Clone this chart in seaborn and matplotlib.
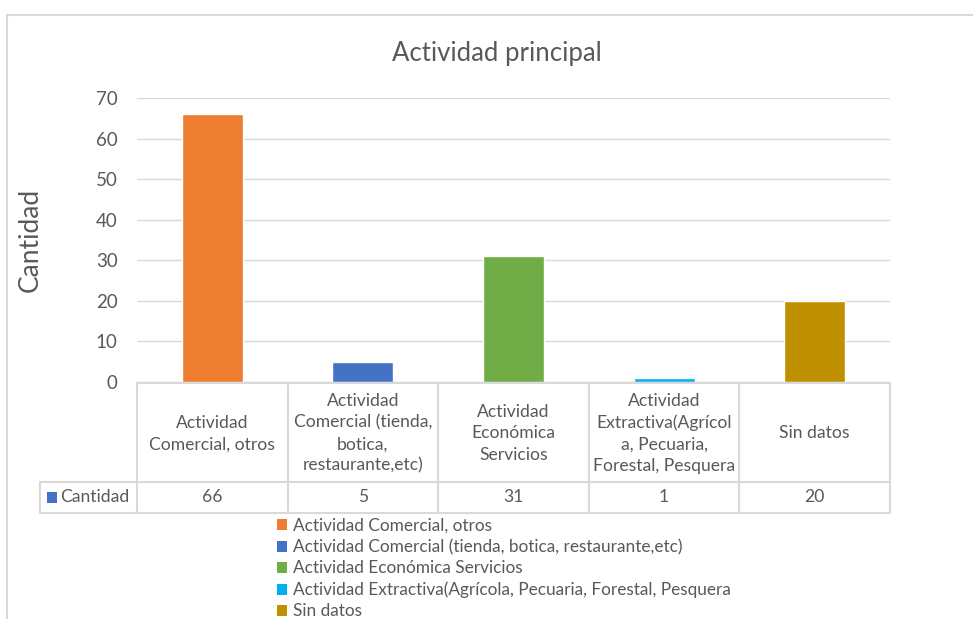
import matplotlib
matplotlib.use("Agg")
import matplotlib.pyplot as plt
import matplotlib.patches as mpatches
import seaborn as sns
import pandas as pd

categories = [
    "Actividad Comercial, otros",
    "Actividad Comercial (tienda, botica, restaurante,etc)",
    "Actividad Económica Servicios",
    "Actividad Extractiva(Agrícola, Pecuaria, Forestal, Pesquera",
    "Sin datos",
]
tick_labels = [
    "Actividad\nComercial, otros",
    "Actividad\nComercial (tienda,\nbotica,\nrestaurante,etc)",
    "Actividad\nEconómica\nServicios",
    "Actividad\nExtractiva(Agrícol\na, Pecuaria,\nForestal, Pesquera",
    "Sin datos",
]
values = [66, 5, 31, 1, 20]
colors = ["#ED7D31", "#4472C4", "#70AD47", "#00B0F0", "#BF9000"]
series_name = "Cantidad"
title = "Actividad principal"
yticks = [0, 10, 20, 30, 40, 50, 60, 70]

sns.set_theme(style="white")
plt.rcParams["font.family"] = ["Lato", "DejaVu Sans"]
TXT = "#595959"
GRID = "#D9D9D9"

W, H = 973, 619
fig = plt.figure(figsize=(W / 100, H / 100), dpi=100)

def fx(px):
    return px / W

def fy(py):
    return 1 - py / H

L, R, T, B = 137, 890, 98, 382
ax = fig.add_axes([fx(L), fy(B), fx(R) - fx(L), fy(T) - fy(B)])

df = pd.DataFrame({"cat": categories, "val": values})
sns.barplot(data=df, x="cat", y="val", hue="cat", palette=colors,
            order=categories, hue_order=categories, dodge=False,
            width=0.405, legend=False, ax=ax, saturation=1)

ax.set_xlim(-0.5, len(categories) - 0.5)
ax.set_ylim(0, 70)
ax.set_yticks(yticks)
ax.set_yticklabels([str(t) for t in yticks], color=TXT, fontsize=13.5)
ax.tick_params(axis="y", length=0, pad=14)
ax.set_xticks([])
ax.set_xlabel("")
ax.set_ylabel("Cantidad", color=TXT, fontsize=19)
ax.yaxis.set_label_coords((43 - L) / (R - L), 0.5)
ax.yaxis.grid(True, color=GRID, linewidth=1)
ax.set_axisbelow(True)
for s in ax.spines.values():
    s.set_visible(False)

fig.text(fx(497), fy(53), title, ha="center", va="center", fontsize=18.5, color=TXT)

# outer chart frame
fig.patches.append(mpatches.Rectangle((fx(7), fy(640)), fx(1000), fy(15) - fy(640),
                                      transform=fig.transFigure, fill=False,
                                      edgecolor=GRID, linewidth=1.5))

# data table
ty0, ty1, ty2 = 383, 482, 513
tx_left = 40
n = len(categories)
cw = (R - L) / n
def hline(x0, x1, y):
    fig.add_artist(plt.Line2D([fx(x0), fx(x1)], [fy(y), fy(y)], transform=fig.transFigure,
                              color=GRID, linewidth=1.5))
def vline(x, y0, y1):
    fig.add_artist(plt.Line2D([fx(x), fx(x)], [fy(y0), fy(y1)], transform=fig.transFigure,
                              color=GRID, linewidth=1.5))
hline(L, R, ty0)
hline(tx_left, R, ty1)
hline(tx_left, R, ty2)
vline(tx_left, ty1, ty2)
for i in range(n + 1):
    vline(L + i * cw, ty0, ty2)
for i, (lab, v) in enumerate(zip(tick_labels, values)):
    cx = L + (i + 0.5) * cw
    fig.text(fx(cx), fy((ty0 + ty1) / 2 + 1), lab, ha="center", va="center",
             fontsize=12.6, color=TXT, linespacing=1.42)
    fig.text(fx(cx), fy((ty1 + ty2) / 2), str(v), ha="center", va="center",
             fontsize=12.6, color=TXT)
fig.patches.append(mpatches.Rectangle((fx(47), fy(503)), fx(10), fy(492) - fy(503),
                                      transform=fig.transFigure, facecolor=colors[1],
                                      edgecolor="none"))
fig.text(fx(60), fy(497), series_name, ha="left", va="center", fontsize=12.6, color=TXT)

# legend
handles = [mpatches.Patch(facecolor=c, edgecolor="none", label=lab)
           for c, lab in zip(colors, categories)]
fig.legend(handles=handles, loc="upper left", bbox_to_anchor=(fx(277), fy(518)),
           frameon=False, fontsize=12.4, labelcolor=TXT, handlelength=0.6,
           handleheight=0.6, handletextpad=0.35, labelspacing=0.3,
           borderpad=0, borderaxespad=0)

fig.savefig("out.png", dpi=100, facecolor="white")
